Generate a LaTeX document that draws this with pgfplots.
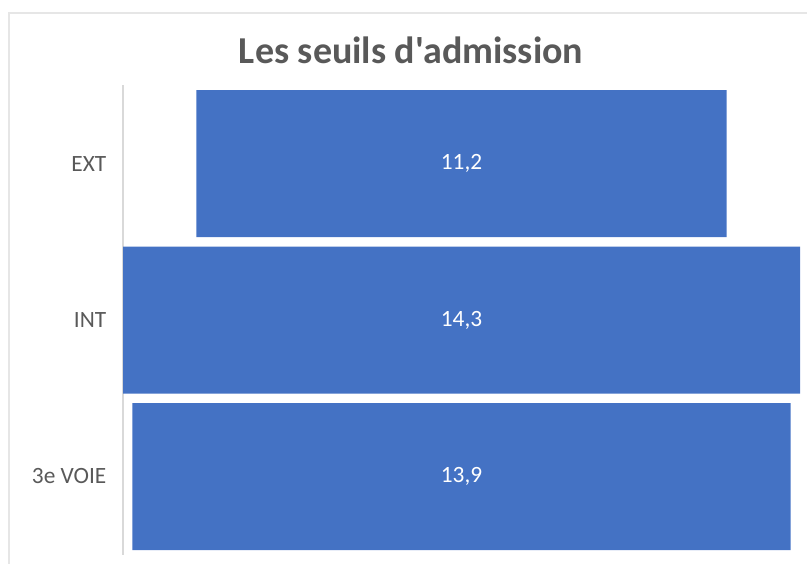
\documentclass[border=0pt]{standalone}
\usepackage{pgfplots}
\pgfplotsset{compat=1.18}
\usepackage{fontspec}
\setmainfont{Carlito}[Ligatures=TeXOff]
\definecolor{barblue}{HTML}{4472C4}
\definecolor{txtgray}{HTML}{595959}
\definecolor{axgray}{HTML}{D9D9D9}
\definecolor{framegray}{HTML}{E6E6E6}
\pgfplotstableread{
y off val lab
0 1.55 11.2 {11,2}
1 0.00 14.3 {14,3}
2 0.20 13.9 {13,9}
}\funneldata
\pgfplotstableread{
y mid lab
0 7.15 {11,2}
1 7.15 {14,3}
2 7.15 {13,9}
}\labeldata
\begin{document}
\begin{tikzpicture}[x=0.75pt,y=0.75pt]
\useasboundingbox (0,0) rectangle (807,564);
\draw[framegray, line width=0.9pt] (9,0) -- (9,551) -- (807,551);
\node[font=\bfseries\fontsize{28.5}{32}\selectfont, text=txtgray] at (411,514) {Les seuils d'admission};
\begin{axis}[
  at={(92.25pt,6.94pt)}, anchor=south west,
  scale only axis,
  width=507.75pt, height=352.1pt,
  xmin=0, xmax=14.3,
  ymin=-0.5, ymax=2.5,
  y dir=reverse,
  bar width=110.25pt,
  axis x line=none,
  axis y line*=left,
  y axis line style={draw=axgray, line width=0.9pt, -},
  ytick={0,1,2},
  yticklabels={EXT,INT,3e VOIE},
  major tick length=0pt,
  yticklabel style={font=\fontsize{17.5}{20}\selectfont, text=txtgray, anchor=east, xshift=-9pt},
  clip=false,
]
\addplot[xbar stacked, draw=none, fill=none] table[x=off, y=y] {\funneldata};
\addplot[xbar stacked, draw=none, fill=barblue] table[x=val, y=y] {\funneldata};
\addplot[stack plots=false, only marks, mark=none,
  point meta=explicit symbolic,
  nodes near coords,
  every node near coord/.append style={anchor=center, text=white, font=\fontsize{17.5}{20}\selectfont}
] table[x=mid, y=y, meta=lab] {\labeldata};
\end{axis}
\end{tikzpicture}
\end{document}
